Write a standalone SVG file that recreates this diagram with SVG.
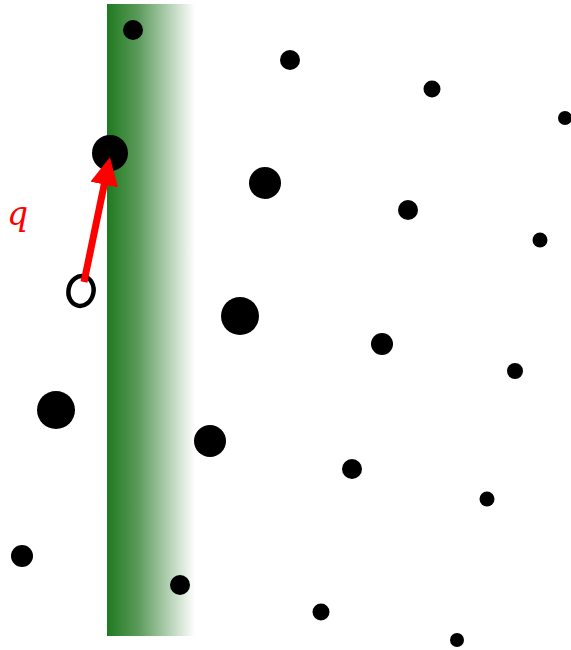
<svg xmlns="http://www.w3.org/2000/svg" width="571" height="650" viewBox="0 0 571 650">
<defs>
<linearGradient id="g" x1="0" y1="0" x2="1" y2="0">
<stop offset="0" stop-color="#1f7a1f"/>
<stop offset="0.35" stop-color="#5a9a5a"/>
<stop offset="1" stop-color="#ffffff"/>
</linearGradient>
<marker id="ah" markerWidth="4" markerHeight="4" refX="3" refY="2" orient="auto" markerUnits="strokeWidth">
<path d="M0,0 L4,2 L0,4 Z" fill="#ff0000"/>
</marker>
<style>
.d{fill:#000}
</style>
</defs>
<rect x="107" y="4" width="88" height="632" fill="url(#g)"/>
<g id="dots">
<circle class="d" cx="133" cy="30" r="10"/>
<circle class="d" cx="290" cy="60" r="10"/>
<circle class="d" cx="432" cy="89" r="8.5"/>
<circle class="d" cx="565" cy="118" r="7"/>
<circle class="d" cx="110" cy="153" r="18"/>
<circle class="d" cx="265" cy="183" r="16"/>
<circle class="d" cx="408" cy="210" r="10"/>
<circle class="d" cx="540" cy="240" r="7.5"/>
<circle class="d" cx="240" cy="316" r="19"/>
<circle class="d" cx="382" cy="344" r="11"/>
<circle class="d" cx="515" cy="371" r="8"/>
<circle class="d" cx="56" cy="410" r="19"/>
<circle class="d" cx="210" cy="441" r="16"/>
<circle class="d" cx="352" cy="469" r="10"/>
<circle class="d" cx="487" cy="499" r="7.5"/>
<circle class="d" cx="22" cy="556" r="11"/>
<circle class="d" cx="180" cy="585" r="10"/>
<circle class="d" cx="321" cy="612" r="8.5"/>
<circle class="d" cx="457" cy="640" r="7"/>
</g>
<g id="open">
<ellipse cx="81" cy="291" rx="12.5" ry="15" transform="rotate(12 81 291)" fill="none" stroke="#000" stroke-width="4.5"/>
</g>
<g id="connectors">
<line x1="84" y1="282" x2="108.5" y2="164" stroke="#ff0000" stroke-width="7" marker-end="url(#ah)"/>
</g>
<text x="7" y="225" font-family="DejaVu Serif, serif" font-style="italic" font-size="33" fill="#ff0000">q</text>
</svg>
